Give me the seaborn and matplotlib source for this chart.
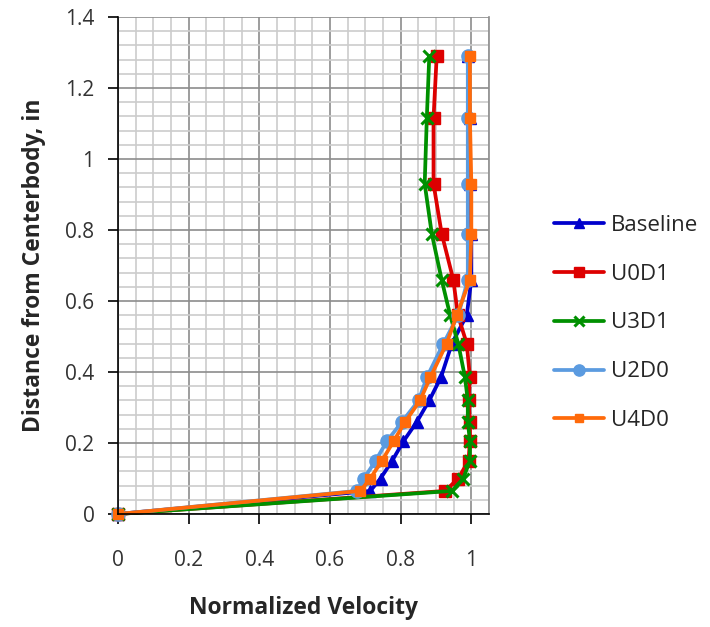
import matplotlib
matplotlib.use("Agg")
import matplotlib.pyplot as plt
import seaborn as sns
import numpy as np
import pandas as pd
from matplotlib.ticker import MultipleLocator

sns.set_theme(style="white")
plt.rcParams['font.family'] = ['Open Sans', 'DejaVu Sans']

distance = [0, 0.065, 0.10, 0.15, 0.205, 0.26, 0.32, 0.385, 0.48, 0.56, 0.66, 0.79, 0.93, 1.115, 1.29]
baseline = [0, 0.714, 0.743, 0.776, 0.808, 0.846, 0.881, 0.914, 0.945, 0.987, 1.0, 1.0, 0.995, 0.995, 0.99]
u0d1 = [0, 0.926, 0.963, 0.992, 0.996, 0.996, 0.992, 0.996, 0.987, 0.962, 0.949, 0.916, 0.893, 0.893, 0.902]
u3d1 = [0, 0.945, 0.977, 0.996, 0.996, 0.99, 0.99, 0.982, 0.963, 0.94, 0.916, 0.888, 0.868, 0.874, 0.881]
u2d0 = [0, 0.677, 0.696, 0.729, 0.761, 0.804, 0.851, 0.874, 0.921, 0.963, 0.99, 0.99, 0.99, 0.99, 0.99]
u4d0 = [0, 0.686, 0.714, 0.747, 0.78, 0.813, 0.855, 0.884, 0.93, 0.959, 0.996, 1.0, 1.0, 0.996, 0.996]

series_names = ["Baseline", "U0D1", "U3D1", "U2D0", "U4D0"]
series_vals = [baseline, u0d1, u3d1, u2d0, u4d0]
colors = ["#0000CC", "#DD0000", "#009000", "#5B9BE0", "#FF6A0A"]
markers = ["^", "s", "x", "o", "s"]
msizes = [8.5, 8.5, 8.5, 9.5, 6.5]

fig = plt.figure(figsize=(7.10, 6.27), dpi=100)
ax = fig.add_axes([118/710, 113/627, (489-118)/710, (514-17)/627])

for name, vals, c, m, ms in zip(series_names, series_vals, colors, markers, msizes):
    df = pd.DataFrame({"x": vals, "y": distance})
    sns.lineplot(data=df, x="x", y="y", sort=False, estimator=None, ax=ax,
                 color=c, marker=m, markersize=ms, linewidth=2.7,
                 markeredgecolor=c, markeredgewidth=2.2 if m == "x" else 1,
                 label=name)

ax.set_xlim(0, 1.05)
ax.set_ylim(0, 1.4)
ax.xaxis.set_minor_locator(MultipleLocator(0.05))
ax.yaxis.set_minor_locator(MultipleLocator(0.04))
ax.set_xticks([0, 0.2, 0.4, 0.6, 0.8, 1.0])
ax.set_xticklabels(["0", "0.2", "0.4", "0.6", "0.8", "1"])
ax.set_yticks([0, 0.2, 0.4, 0.6, 0.8, 1.0, 1.2, 1.4])
ax.set_yticklabels(["0", "0.2", "0.4", "0.6", "0.8", "1", "1.2", "1.4"])

ax.grid(which="minor", color="#cccccc", linewidth=1.2)
ax.grid(which="major", color="#8c8c8c", linewidth=1.2)
ax.set_axisbelow(True)

for s in ["left", "bottom"]:
    ax.spines[s].set_color("black")
    ax.spines[s].set_linewidth(1.2)
ax.spines["right"].set_color("#8c8c8c")
ax.spines["right"].set_linewidth(1.2)
ax.spines["top"].set_visible(False)

ax.tick_params(axis="both", which="major", direction="out", length=7, width=1.2,
               color="black", labelsize=15, labelcolor="#333333")
ax.tick_params(axis="x", which="major", pad=19, bottom=True)
ax.tick_params(axis="y", which="major", pad=10, left=True)
ax.tick_params(which="minor", length=0)

ax.set_xlabel("Normalized Velocity", fontsize=16.5, fontweight="bold", labelpad=18)
ax.set_ylabel("Distance from Centerbody, in", fontsize=16.5, fontweight="bold", labelpad=14)
for line in ax.get_lines():
    line.set_clip_on(False)

leg = ax.legend(loc="center left", bbox_to_anchor=(554/710, (627-323)/627),
                bbox_transform=fig.transFigure, frameon=False, fontsize=16,
                handlelength=2.25, handletextpad=0.3, labelspacing=1.25,
                borderpad=0, borderaxespad=0, markerscale=0.85)

fig.savefig("out.png", dpi=100)
